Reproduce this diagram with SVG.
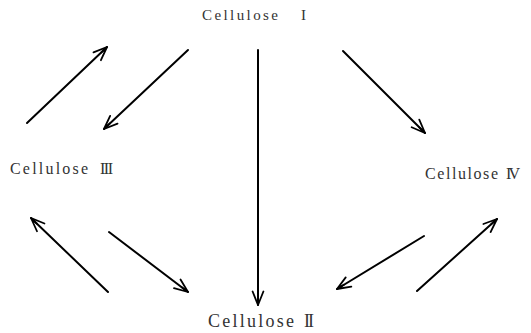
<svg xmlns="http://www.w3.org/2000/svg" width="531" height="333" viewBox="0 0 531 333">
<style>
.lbl{font-family:"Liberation Serif","DejaVu Serif",serif;fill:#333}
.c{stroke:#000;stroke-width:2;fill:none;stroke-linecap:round}
</style>
<defs>
<marker id="ah" viewBox="0 0 20 20" refX="18" refY="10" markerWidth="18" markerHeight="18" markerUnits="userSpaceOnUse" orient="auto">
<path d="M3,4 L18,10 L3,16 M9,10 L18,10" stroke="#000" stroke-width="2" fill="none" stroke-linecap="round" stroke-linejoin="round"/>
</marker>
</defs>
<rect width="531" height="333" fill="#fff"/>
<g id="node-c1"><text class="lbl" font-size="15" y="20"><tspan x="202" textLength="76" lengthAdjust="spacing">Cellulose</tspan><tspan x="301">I</tspan></text></g>
<g id="node-c3"><text class="lbl" font-size="16" y="174"><tspan x="10" textLength="78" lengthAdjust="spacing">Cellulose</tspan><tspan x="100" textLength="13" lengthAdjust="spacing">III</tspan></text></g>
<g id="node-c4"><text class="lbl" font-size="16" y="179"><tspan x="425" textLength="73" lengthAdjust="spacing">Cellulose</tspan><tspan x="506" textLength="14" lengthAdjust="spacing">IV</tspan></text></g>
<g id="node-c2"><text class="lbl" font-size="18" y="327"><tspan x="208" textLength="86" lengthAdjust="spacing">Cellulose</tspan><tspan x="304" textLength="10" lengthAdjust="spacing">II</tspan></text></g>
<g id="connectors">
<line class="c" x1="27" y1="123" x2="107" y2="47" marker-end="url(#ah)"/>
<line class="c" x1="188" y1="50" x2="104" y2="129" marker-end="url(#ah)"/>
<line class="c" x1="258" y1="50" x2="258" y2="305" marker-end="url(#ah)"/>
<line class="c" x1="343" y1="51" x2="425" y2="133" marker-end="url(#ah)"/>
<line class="c" x1="108" y1="292" x2="31" y2="218" marker-end="url(#ah)"/>
<line class="c" x1="109" y1="232" x2="188" y2="292" marker-end="url(#ah)"/>
<line class="c" x1="424" y1="236" x2="337" y2="289" marker-end="url(#ah)"/>
<line class="c" x1="417" y1="291" x2="497" y2="219" marker-end="url(#ah)"/>
</g>
</svg>
